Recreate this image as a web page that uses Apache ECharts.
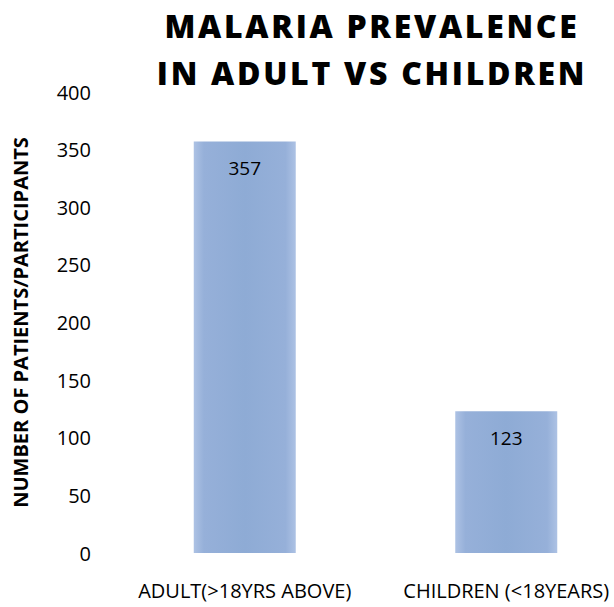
<!DOCTYPE html>
<html>
<head>
<meta charset="utf-8">
<script src="https://cdn.jsdelivr.net/npm/echarts@6/dist/echarts.min.js"></script>
<style>
html,body{margin:0;padding:0;background:#fff;overflow:hidden;}
#chart{width:640px;height:607px;}
</style>
</head>
<body>
<div id="chart"></div>
<script>
const titleLines = ['MALARIA PREVALENCE', 'IN ADULT VS CHILDREN'];
const categories = ['ADULT(>18YRS ABOVE)', 'CHILDREN (<18YEARS)'];
const values = [357, 123];
const yAxisName = 'NUMBER OF PATIENTS/PARTICIPANTS';
const yMin = 0, yMax = 400, yInterval = 50;

const chart = echarts.init(document.getElementById('chart'), null, {renderer: 'svg'});
const barColor = new echarts.graphic.LinearGradient(0, 0, 1, 0, [
  {offset: 0, color: '#adc2e4'},
  {offset: 0.1, color: '#96b0d9'},
  {offset: 0.5, color: '#8eabd5'},
  {offset: 0.9, color: '#96b0d9'},
  {offset: 1, color: '#adc2e4'}
]);
chart.setOption({
  animation: false,
  backgroundColor: '#ffffff',
  graphic: titleLines.map((t, i) => ({
    type: 'text',
    x: 372,
    y: 25 + i * 47,
    style: {
      text: t,
      textAlign: 'center',
      textVerticalAlign: 'middle',
      font: '800 32px "Open Sans"',
      fill: '#000'
    }
  })),
  grid: {left: 114, top: 92, bottom: 54, width: 523},
  xAxis: {
    type: 'category',
    data: categories,
    axisLine: {show: false},
    axisTick: {show: false},
    axisLabel: {color: '#000', fontSize: 20, fontFamily: 'Open Sans', margin: 27, interval: 0}
  },
  yAxis: {
    type: 'value',
    min: yMin, max: yMax, interval: yInterval,
    name: yAxisName,
    nameLocation: 'middle',
    nameGap: 84,
    nameTextStyle: {color: '#000', fontSize: 20, fontWeight: 'bold', fontFamily: 'Open Sans'},
    axisLine: {show: false},
    axisTick: {show: false},
    splitLine: {show: false},
    axisLabel: {color: '#000', fontSize: 20, fontFamily: 'Open Sans', margin: 23}
  },
  series: [{
    type: 'bar',
    data: values,
    barWidth: 102,
    itemStyle: {color: barColor},
    label: {
      show: true,
      position: 'insideTop',
      distance: 17,
      color: '#000',
      fontSize: 19,
      fontFamily: 'Open Sans'
    }
  }]
});

function spaceTitle() {
  const texts = document.querySelectorAll('#chart svg text');
  texts.forEach(el => {
    if (titleLines.includes(el.textContent.trim())) {
      el.setAttribute('letter-spacing', '2.7');
    }
  });
}
spaceTitle();
chart.on('finished', spaceTitle);
setTimeout(spaceTitle, 50);
</script>
</body>
</html>
